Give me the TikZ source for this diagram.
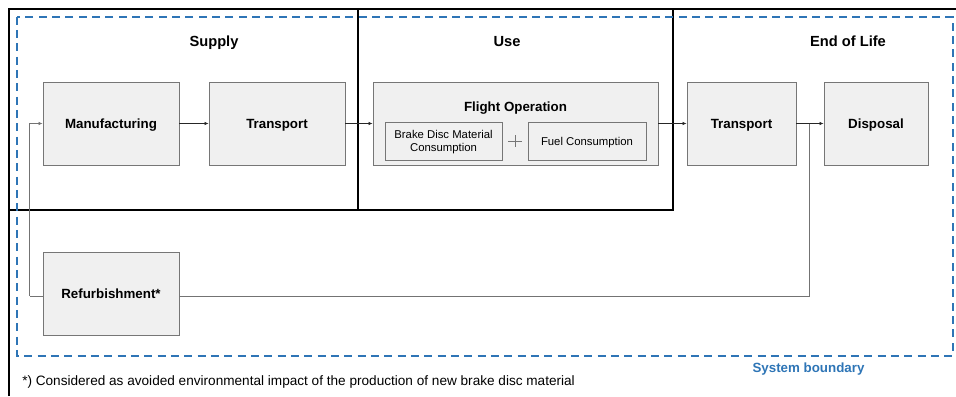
\documentclass[tikz,border=0pt]{standalone}
\usepackage{fontspec}
\setmainfont{Liberation Sans}
\usetikzlibrary{arrows.meta}

\definecolor{sysblue}{RGB}{46,117,182}
\definecolor{boxfill}{RGB}{240,240,240}
\definecolor{boxline}{RGB}{118,118,118}

\begin{document}
\begin{tikzpicture}[x=0.75pt,y=0.75pt,yscale=-1,xscale=1,
  every node/.style={text depth=0pt},
  proc/.style={draw=boxline,fill=boxfill,line width=0.65pt,minimum height=62.25pt,inner sep=0pt,font=\fontsize{10}{12}\selectfont\bfseries},
  subproc/.style={draw=boxline,fill=boxfill,line width=0.55pt,minimum height=28.5pt,inner sep=0pt,align=center,font=\fontsize{8.5}{10}\selectfont},
  phase/.style={font=\fontsize{11}{13}\selectfont\bfseries},
  flow/.style={line width=0.5pt,draw=black!85,-{Latex[length=3pt,width=2.6pt]}},
  back/.style={line width=0.6pt,draw=black!55}]
\useasboundingbox (0,0) rectangle (956,396);

%Shape: Frame around the life cycle phases
\draw[line width=1.2pt] (9,396) -- (9,9) -- (956,9) ;
%Shape: Rectangle [Supply]
\draw[line width=1.2pt] (9,9) rectangle (358,210) ;
%Shape: Rectangle [Use]
\draw[line width=1.2pt] (358,9) rectangle (673,210) ;
%Shape: Rectangle [system boundary]
\draw[sysblue,line width=1.5pt,dash pattern=on 6pt off 4pt] (16.5,16.5) rectangle (952.5,355.5) ;

% Text Node
\node[phase] (supply) at (214,41) {Supply};
% Text Node
\node[phase] (use) at (507,41) {Use};
% Text Node
\node[phase] (eol) at (848,41) {End of Life};

%Shape: Process boxes
\node[proc,minimum width=102pt] (manuf) at (111,123.5) {Manufacturing};
\node[proc,minimum width=102pt] (trsupply) at (277,123.5) {Transport};
\node[proc,minimum width=213.75pt] (flight) at (515.5,123.5) {};
\node[proc,minimum width=81.75pt] (treol) at (741.5,123.5) {Transport};
\node[proc,minimum width=78pt] (disposal) at (876,123.5) {Disposal};
\node[proc,minimum width=102pt] (refurb) at (111,293.5) {Refurbishment*};

% Text Node
\node[font=\fontsize{10}{12}\selectfont\bfseries] (flighttitle) at (515.5,107) {Flight Operation};
\node[subproc,minimum width=87.75pt] (brake) at (443.5,141) {Brake Disc Material\\Consumption};
\node[subproc,minimum width=88.5pt] (fuel) at (587,141) {Fuel Consumption};
%Shape: plus sign
\draw[boxline,line width=0.5pt] (508,141) -- (522,141) (515,135) -- (515,147) ;

% Flows
\draw[flow] (manuf) -- (trsupply);
\draw[flow] (trsupply) -- (flight);
\draw[flow] (flight) -- (treol);
\draw[flow] (treol) -- (disposal);
\coordinate (split) at (809,123.5);
\draw[back] (split) |- ([yshift=2pt]refurb.east);
\draw[back] ([yshift=2pt]refurb.west) -- ++(-13,0) coordinate (rejoin);
\draw[flow,draw=black!55] (rejoin) |- (manuf.west);

% Text Node
\node[text=sysblue,font=\fontsize{10}{12}\selectfont\bfseries] (sysbound) at (808.5,368) {System boundary};
% Text Node
\node[anchor=west,inner sep=0pt,font=\fontsize{10.2}{12}\selectfont] (note) at (22,381) {*) Considered as avoided environmental impact of the production of new brake disc material};
\end{tikzpicture}
\end{document}
